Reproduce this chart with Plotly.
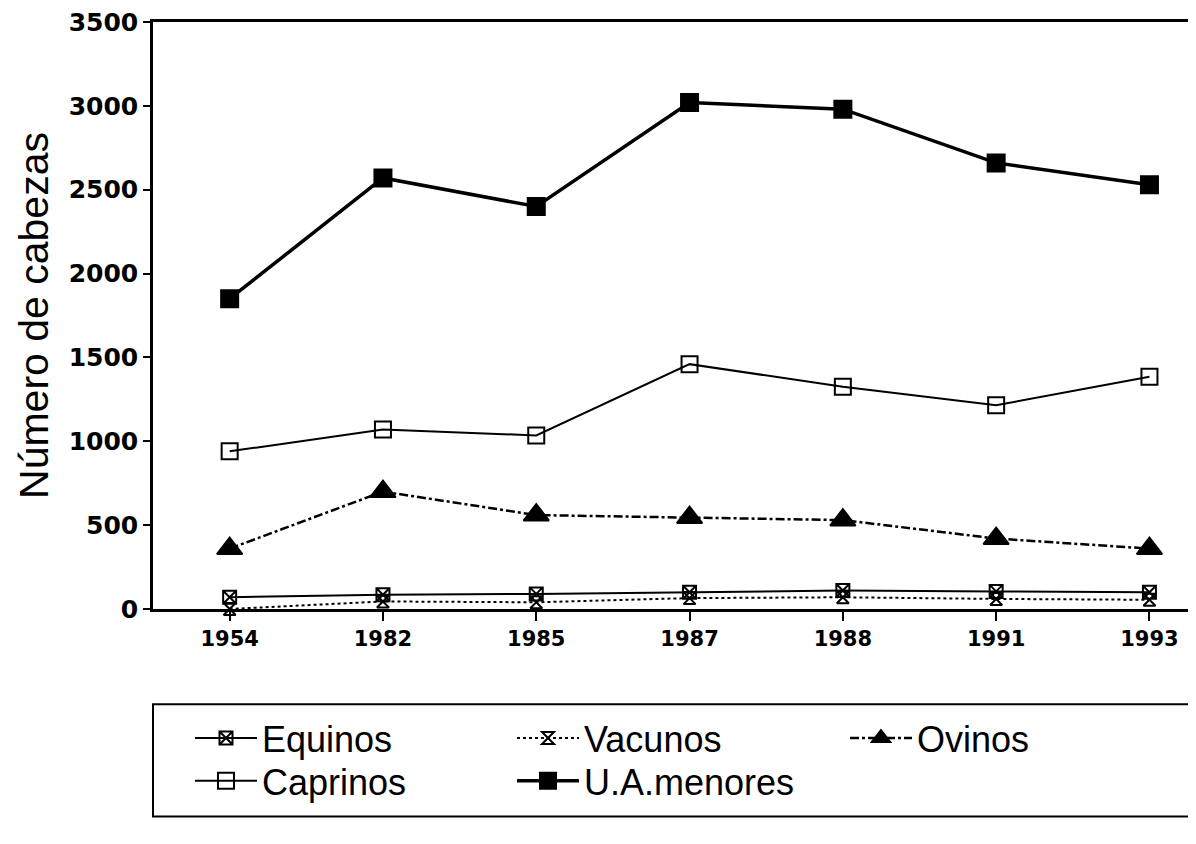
import plotly.graph_objects as go

years = ["1954", "1982", "1985", "1987", "1988", "1991", "1993"]
equinos = [70, 85, 90, 100, 110, 105, 100]
vacunos = [0, 45, 40, 65, 70, 60, 55]
ovinos = [360, 700, 560, 545, 530, 420, 360]
caprinos = [940, 1070, 1035, 1460, 1325, 1215, 1385]
ua_menores = [1850, 2570, 2400, 3020, 2980, 2660, 2530]

y_ticks = [0, 500, 1000, 1500, 2000, 2500, 3000, 3500]

FONT = "Liberation Sans, Arial, sans-serif"
TICKFONT = "DejaVu Sans, sans-serif"

fig = go.Figure()

def add(name, y, symbol, msize, dash, lw, legend):
    fig.add_trace(go.Scatter(
        x=years, y=y, name=name, mode="lines+markers",
        line=dict(color="black", width=lw, dash=dash),
        marker=dict(symbol=symbol, size=msize, color="black",
                    line=dict(color="black", width=2)),
        cliponaxis=False, legend=legend,
    ))

add("Equinos", equinos, "square-x-open", 13, "solid", 2, "legend")
add("Caprinos", caprinos, "square-open", 16, "solid", 2, "legend2")
add("Vacunos", vacunos, "hourglass-open", 12, "dot", 2, "legend3")
add("U.A.menores", ua_menores, "square", 17, "solid", 3.5, "legend4")
add("Ovinos", ovinos, "triangle-up", 22, "dashdot", 2.5, "legend5")

# page offset (browser body margin)
OFF = 8
W, H = 1196, 844
L = 153 - OFF
T = 18 - OFF
B = H - (609 - OFF)
R = 0
pw = W - L - R
ph = H - T - B

def px2paper_x(px):
    return (px - OFF - L) / pw

def px2paper_y(py):
    return (H - B - (py - OFF)) / ph

# x range so that category spacing matches the reference (~153.3 px)
x_end = -0.5 + pw / 153.3

legend_common = dict(
    font=dict(family=FONT, size=36, color="black"),
    bgcolor="rgba(0,0,0,0)", borderwidth=0,
    yanchor="middle", xanchor="left", tracegroupgap=0,
    orientation="v", itemwidth=62,
)

ROW1, ROW2 = 739, 782
COL1, COL2, COL3 = 190, 512, 845

fig.update_layout(
    width=W, height=H,
    margin=dict(l=L, r=R, t=T, b=B, pad=0),
    paper_bgcolor="white", plot_bgcolor="white",
    font=dict(family=FONT, color="black"),
    legend=dict(x=px2paper_x(COL1), y=px2paper_y(ROW1), **legend_common),
    legend2=dict(x=px2paper_x(COL1), y=px2paper_y(ROW2), **legend_common),
    legend3=dict(x=px2paper_x(COL2), y=px2paper_y(ROW1), **legend_common),
    legend4=dict(x=px2paper_x(COL2), y=px2paper_y(ROW2), **legend_common),
    legend5=dict(x=px2paper_x(COL3), y=px2paper_y(ROW1), **legend_common),
    xaxis=dict(
        type="category", range=[-0.5, x_end],
        showline=True, linecolor="black", linewidth=2.5, mirror=True,
        ticks="outside", ticklen=9, tickwidth=2, tickcolor="black",
        tickfont=dict(family=TICKFONT, size=21, color="black", weight="bold"),
        showgrid=False, zeroline=False,
    ),
    yaxis=dict(
        range=[0, 3500], tickvals=y_ticks, ticktext=[str(v) for v in y_ticks],
        showline=True, linecolor="black", linewidth=2.5,
        ticks="outside", ticklen=7, tickwidth=2, tickcolor="black",
        tickfont=dict(family=TICKFONT, size=25, color="black", weight="bold"),
        ticklabeloverflow="allow",
        showgrid=False, zeroline=False,
        title=dict(text="Número de cabezas",
                   font=dict(family=FONT, size=41, color="black"),
                   standoff=8),
    ),
    showlegend=True,
)

fig.add_shape(type="rect", xref="paper", yref="paper",
              x0=0, x1=px2paper_x(1190), y0=px2paper_y(818), y1=px2paper_y(705),
              line=dict(color="black", width=2), fillcolor="rgba(0,0,0,0)")

fig.write_html("out.html")
